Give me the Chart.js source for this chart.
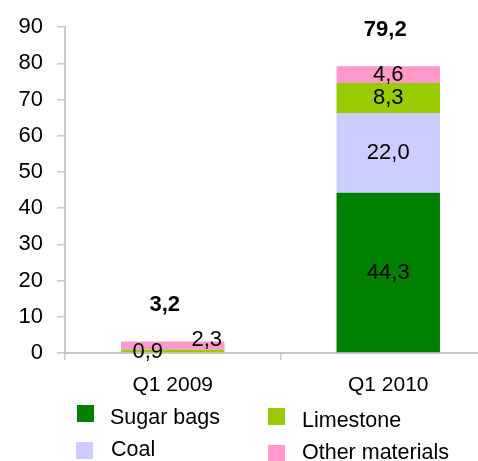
<!DOCTYPE html>
<html>
<head>
<meta charset="utf-8">
<script src="https://cdn.jsdelivr.net/npm/chart.js@4.4.1/dist/chart.umd.min.js"></script>
<style>
  body { margin: 0; width: 478px; height: 461px; overflow: hidden; background: #fff; font-family: "Liberation Sans", Arial, sans-serif; }
  .wrap { position: relative; width: 496px; height: 461px; }
  .legend { position: absolute; left: 0; top: 0; width: 478px; height: 461px; pointer-events: none; }
  .box { position: absolute; width: 17px; height: 17px; }
  .txt { position: absolute; white-space: nowrap; font-size: 21.5px; line-height: 24px; color: #000; }
</style>
</head>
<body>
<div class="wrap">
  <canvas id="chart" width="496" height="461"></canvas>
  <div class="legend" id="legend"></div>
</div>
<script>
let categories = ["Q1 2009", "Q1 2010"];
let seriesNames = ["Sugar bags", "Coal", "Limestone", "Other materials"];
let sugarBags = [0, 44.3];
let coal = [0, 22.0];
let limestone = [0.9, 8.3];
let otherMaterials = [2.3, 4.6];
let totals = [3.2, 79.2];
let yTicks = [0, 10, 20, 30, 40, 50, 60, 70, 80, 90];

let colors = ["#008000", "#ccccff", "#99cc00", "#ff99cc"];
// label nudges for the thin Q1 2009 segments [dataset][category] = [dx, dy]
let nudges = [
  [[0, 0], [0, 0]],
  [[0, 0], [0, 0]],
  [[-25, 1], [0, 0]],
  [[34, -6], [0, 0]]
];

function fmt(v) {
  return v.toFixed(1).replace(".", ",");
}

const labelPlugin = {
  id: "labels",
  afterDatasetsDraw(chart) {
    const ctx = chart.ctx;
    const yScale = chart.scales.y;
    ctx.save();
    ctx.fillStyle = "#000";
    ctx.textAlign = "center";
    ctx.textBaseline = "middle";
    ctx.font = "22px 'Liberation Sans', Arial, sans-serif";
    chart.data.datasets.forEach((ds, di) => {
      const meta = chart.getDatasetMeta(di);
      meta.data.forEach((bar, i) => {
        if (!ds.data[i]) return;
        const yMid = (bar.y + bar.base) / 2;
        ctx.fillText(fmt(ds.data[i]), bar.x + nudges[di][i][0], yMid + nudges[di][i][1]);
      });
    });
    ctx.font = "bold 22px 'Liberation Sans', Arial, sans-serif";
    const meta0 = chart.getDatasetMeta(0);
    totals.forEach((t, i) => {
      const x = meta0.data[i].x;
      ctx.fillText(fmt(t), x - 8 + i * 5, yScale.getPixelForValue(t) - 36);
    });
    ctx.restore();
  }
};

const data = {
  labels: categories,
  datasets: [
    { label: seriesNames[0], data: sugarBags, backgroundColor: colors[0] },
    { label: seriesNames[1], data: coal, backgroundColor: colors[1] },
    { label: seriesNames[2], data: limestone, backgroundColor: colors[2] },
    { label: seriesNames[3], data: otherMaterials, backgroundColor: colors[3] }
  ]
};

const config = {
  type: "bar",
  data: data,
  options: {
    responsive: false,
    animation: false,
    layout: { padding: { top: 25, left: 0, right: 0, bottom: 0 } },
    datasets: { bar: { categoryPercentage: 1, barPercentage: 0.48 } },
    plugins: {
      legend: { display: false },
      tooltip: { enabled: false }
    },
    scales: {
      x: {
        stacked: true,
        afterFit(scale) { scale.height = 108; },
        border: { display: true, color: "#c8c8c8", width: 2 },
        grid: { drawOnChartArea: false, drawTicks: true, tickLength: 7, color: "#c8c8c8", lineWidth: 1.5 },
        ticks: { color: "#000", padding: 13, font: { size: 21, family: "'Liberation Sans', Arial, sans-serif" } }
      },
      y: {
        stacked: true,
        min: 0,
        max: 90,
        afterFit(scale) { scale.width = 65; },
        afterBuildTicks(scale) { scale.ticks = yTicks.map(v => ({ value: v })); },
        border: { display: true, color: "#c8c8c8", width: 2 },
        grid: { drawOnChartArea: false, drawTicks: true, tickLength: 8, color: "#c8c8c8", lineWidth: 1.5 },
        ticks: { color: "#000", padding: 14, font: { size: 22, family: "'Liberation Sans', Arial, sans-serif" } }
      }
    }
  },
  plugins: [labelPlugin]
};

new Chart(document.getElementById("chart").getContext("2d"), config);

// legend, two columns: Sugar bags / Coal on the left, Limestone / Other materials on the right
let boxSpots = [[77, 405], [76, 442], [268, 408], [268, 445]];
let textSpots = [[110, 417], [111, 449], [302, 420], [302, 452]];
const legend = document.getElementById("legend");
seriesNames.forEach((name, si) => {
  const box = document.createElement("div");
  box.className = "box";
  box.style.background = colors[si];
  box.style.left = boxSpots[si][0] + "px";
  box.style.top = boxSpots[si][1] + "px";
  const txt = document.createElement("div");
  txt.className = "txt";
  txt.style.left = textSpots[si][0] + "px";
  txt.style.top = (textSpots[si][1] - 12) + "px";
  txt.textContent = name;
  legend.appendChild(box);
  legend.appendChild(txt);
});
</script>
</body>
</html>
